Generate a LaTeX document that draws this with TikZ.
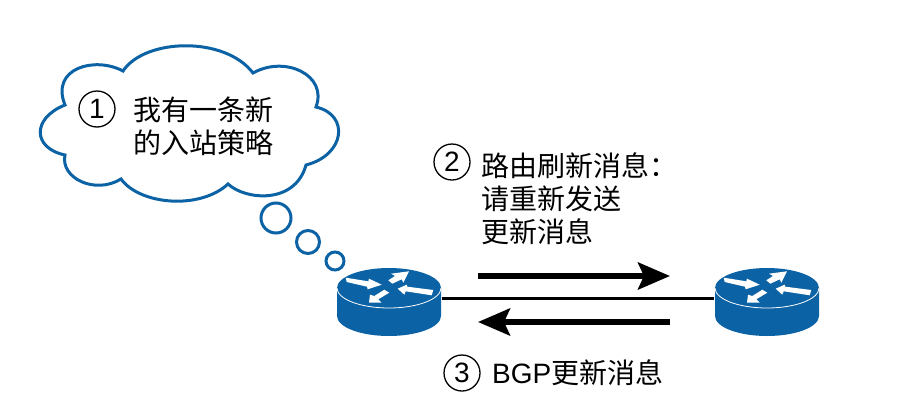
\documentclass[tikz,border=0pt]{standalone}
\usepackage{fontspec}
\setmainfont{Liberation Sans}
\newfontfamily\cjk{Noto Sans CJK SC}
\usetikzlibrary{arrows.meta}
\definecolor{routerblue}{HTML}{0B62A4}
\tikzset{
  label text/.style={inner sep=0pt,align=left,anchor=west,font=\fontsize{28}{33}\selectfont\cjk},
  step num/.style={circle,draw=black,line width=1.3pt,minimum size=36pt,inner sep=0pt,font=\fontsize{28}{28}\selectfont},
  bubble/.style={circle,draw=routerblue,line width=3pt,inner sep=0pt},
  flow/.style={line width=5.5pt,-{Stealth[length=32pt,width=27pt,inset=6pt]}},
  router box/.style={minimum width=105pt,minimum height=70pt,inner sep=0pt}
}
\newcommand{\routerat}[1]{%
  \fill[routerblue] (#1) ++(-52,0) -- ++(0,28) arc[start angle=180,end angle=360,x radius=52pt,y radius=20pt] -- ++(0,-28) -- cycle;
  \fill[routerblue] (#1) ellipse[x radius=52pt,y radius=20pt];
  \draw[white,line width=0.8pt] (#1) ++(-52,0) arc[start angle=180,end angle=360,x radius=52pt,y radius=20pt];
  \begin{scope}[shift={(#1)}]
    \fill[white] (-43.3,-10.3) -- (-20.7,-6.7) -- (-20,-9.3) -- (-7.3,-3.3) -- (-21.3,1.3) -- (-22,-1.3) -- (-42.3,-6) -- cycle;
    \fill[white] (20,-16.7) -- (2,-14.3) -- (6,-12) -- (-0.7,-7.7) -- (3.3,-4.3) -- (12.7,-8.7) -- (14.3,-5.3) -- cycle;
    \fill[white] (8.7,0.7) -- (17.7,-3.3) -- (18.3,-1.3) -- (44.3,2) -- (42.7,7.3) -- (16.7,3.3) -- (15.3,6.7) -- cycle;
    \fill[white] (-20,14.7) -- (-19,6.7) -- (-14.7,8) -- (-4.7,1.7) -- (0.3,4.7) -- (-10.7,11.3) -- (-7.3,14.7) -- cycle;
  \end{scope}
}
\begin{document}
\begin{tikzpicture}[x=1pt,y=-1pt]
\useasboundingbox (0,0) rectangle (918,402);
\coordinate (c1) at (123,71);
\coordinate (c2) at (253,73);
\coordinate (c3) at (316,107);
\coordinate (c4) at (306,165);
\coordinate (c5) at (228,184);
\coordinate (c6) at (121,179);
\coordinate (c7) at (65,155);
\coordinate (c8) at (65,105);
% thought cloud
\draw[routerblue,line width=3pt,line join=miter,fill=white]
  (c1) .. controls (145,38) and (225,36) .. (c2)
  .. controls (285,55) and (328,75) .. (c3)
  .. controls (350,115) and (345,155) .. (c4)
  .. controls (295,205) and (245,200) .. (c5)
  .. controls (200,210) and (140,205) .. (c6)
  .. controls (95,195) and (60,178) .. (c7)
  .. controls (32,148) and (32,118) .. (c8)
  .. controls (50,68) and (95,56) .. (c1) -- cycle;
\node[bubble,minimum size=30pt] (b1) at (276,218) {};
\node[bubble,minimum size=23pt] (b2) at (308,242) {};
\node[bubble,minimum size=18pt] (b3) at (335,261) {};
% routers
\node[router box] (r1) at (389,303) {};
\node[router box] (r2) at (767,303) {};
\routerat{389,288}
\routerat{767,288}
\draw[line width=3pt] (r1.east |- 0,298) -- (r2.west |- 0,298);
\coordinate (a1) at (478,276);
\coordinate (a2) at (670,276);
\coordinate (a3) at (670,322);
\coordinate (a4) at (478,322);
\draw[flow] (a1) -- (a2);
\draw[flow] (a3) -- (a4);
% steps
\node[step num] (n1) at (97,109) {1};
\node[label text] (t1) at (133,126) {我有一条新\\的入站策略};
\node[step num] (n2) at (452,162) {2};
\node[label text] (t2) at (481,199) {路由刷新消息：\\请重新发送\\更新消息};
\node[step num] (n3) at (462,373) {3};
\node[label text] (t3) at (492,373) {{\rmfamily BGP}更新消息};
\end{tikzpicture}
\end{document}
